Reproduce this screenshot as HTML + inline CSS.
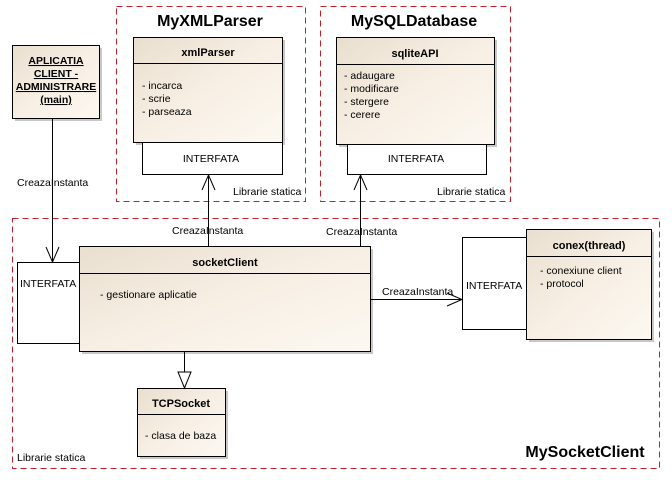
<!DOCTYPE html>
<html><head><style>
html,body{margin:0;padding:0;background:#fff;width:672px;height:480px;overflow:hidden}
svg{display:block}
text{font-family:"Liberation Sans",Arial,sans-serif;fill:#000}
</style></head><body>
<svg width="672" height="480" viewBox="0 0 672 480" xmlns="http://www.w3.org/2000/svg">
<defs>
<linearGradient id="g" x1="0" y1="0" x2="1" y2="1">
<stop offset="0" stop-color="#e9dfcf"/><stop offset="0.5" stop-color="#f7efe4"/><stop offset="1" stop-color="#fcf8f1"/>
</linearGradient>
</defs>
<g fill="none" stroke="#c0202a" stroke-width="1" stroke-dasharray="6,4">
<rect x="116.5" y="6.5" width="189" height="195"/>
<rect x="320.5" y="6.5" width="190" height="195"/>
<rect x="12.5" y="218.5" width="647" height="250"/>
</g>
<g font-weight="bold" font-size="16" text-anchor="middle">
<text x="210" y="26">MyXMLParser</text>
<text x="414" y="26">MySQLDatabase</text>
<text x="585" y="457">MySocketClient</text>
</g>
<g font-size="10.5">
<text x="233" y="195">Librarie statica</text>
<text x="437" y="195">Librarie statica</text>
<text x="17" y="461">Librarie statica</text>
</g>
<g fill="#c8c8c8">
<rect x="15" y="48" width="87" height="73"/>
<rect x="136" y="40" width="149" height="105"/>
<rect x="339" y="40" width="158" height="107"/>
<rect x="82" y="249" width="291" height="105"/>
<rect x="529" y="232" width="125" height="110"/>
<rect x="140" y="391" width="88" height="68"/>
</g>
<g stroke="#000" stroke-width="1" fill="url(#g)">
<rect x="12.5" y="45.5" width="87" height="73"/>
<rect x="133.5" y="37.5" width="149" height="105"/>
<rect x="336.5" y="37.5" width="158" height="107"/>
<rect x="79.5" y="246.5" width="291" height="105"/>
<rect x="526.5" y="229.5" width="125" height="110"/>
<rect x="137.5" y="388.5" width="88" height="68"/>
</g>
<g stroke="#000" stroke-width="1" fill="#fff">
<rect x="142.5" y="142.5" width="140" height="32"/>
<rect x="347.5" y="144.5" width="139" height="30"/>
<rect x="17.5" y="262.5" width="62" height="81"/>
<rect x="462.5" y="237.5" width="64" height="92"/>
</g>
<g stroke="#000" stroke-width="1">
<line x1="133" y1="63.5" x2="282" y2="63.5"/>
<line x1="336" y1="64.5" x2="494" y2="64.5"/>
<line x1="79" y1="273.5" x2="370" y2="273.5"/>
<line x1="526" y1="256.5" x2="651" y2="256.5"/>
<line x1="137" y1="414.5" x2="225" y2="414.5"/>
</g>
<g font-size="11" font-weight="bold" text-anchor="middle">
<text x="208" y="56">xmlParser</text>
<text x="415" y="57">sqliteAPI</text>
<text x="225" y="266">socketClient</text>
<text x="589" y="249">conex(thread)</text>
<text x="181" y="407">TCPSocket</text>
</g>
<g font-size="10.5" font-weight="bold" text-anchor="middle" text-decoration="underline">
<text x="56" y="64">APLICATIA</text>
<text x="56" y="77">CLIENT -</text>
<text x="56" y="90">ADMINISTRARE</text>
<text x="56" y="103">(main)</text>
</g>
<g font-size="10.5">
<text x="142" y="89">- incarca</text>
<text x="142" y="102">- scrie</text>
<text x="142" y="115">- parseaza</text>
<text x="344" y="79">- adaugare</text>
<text x="344" y="92">- modificare</text>
<text x="344" y="105">- stergere</text>
<text x="344" y="118">- cerere</text>
<text x="100" y="298">- gestionare aplicatie</text>
<text x="540" y="274">- conexiune client</text>
<text x="540" y="287">- protocol</text>
<text x="145" y="439">- clasa de baza</text>
<text x="17" y="186">CreazaInstanta</text>
<text x="172" y="234">CreazaInstanta</text>
<text x="326" y="235">CreazaInstanta</text>
<text x="382" y="295">CreazaInstanta</text>
</g>
<g font-size="10.5" text-anchor="middle">
<text x="211" y="162">INTERFATA</text>
<text x="416" y="162">INTERFATA</text>
</g>
<g font-size="10.5">
<text x="20" y="287">INTERFATA</text>
<text x="466" y="289">INTERFATA</text>
</g>
<g stroke="#000" stroke-width="1" fill="none">
<line x1="52.5" y1="118" x2="52.5" y2="262"/>
<polyline points="46,247 52.5,262 59,247"/>
<line x1="208.5" y1="175" x2="208.5" y2="246"/>
<polyline points="202,190 208.5,175 215,190"/>
<line x1="360.5" y1="175" x2="360.5" y2="246"/>
<polyline points="354,190 360.5,175 367,190"/>
<line x1="370" y1="299.5" x2="462" y2="299.5"/>
<polyline points="447,293 462,299.5 447,306"/>
<line x1="184.5" y1="351" x2="184.5" y2="372"/>
<polygon points="178,372 191,372 184.5,388" fill="#fff"/>
</g>
</svg>
</body></html>
